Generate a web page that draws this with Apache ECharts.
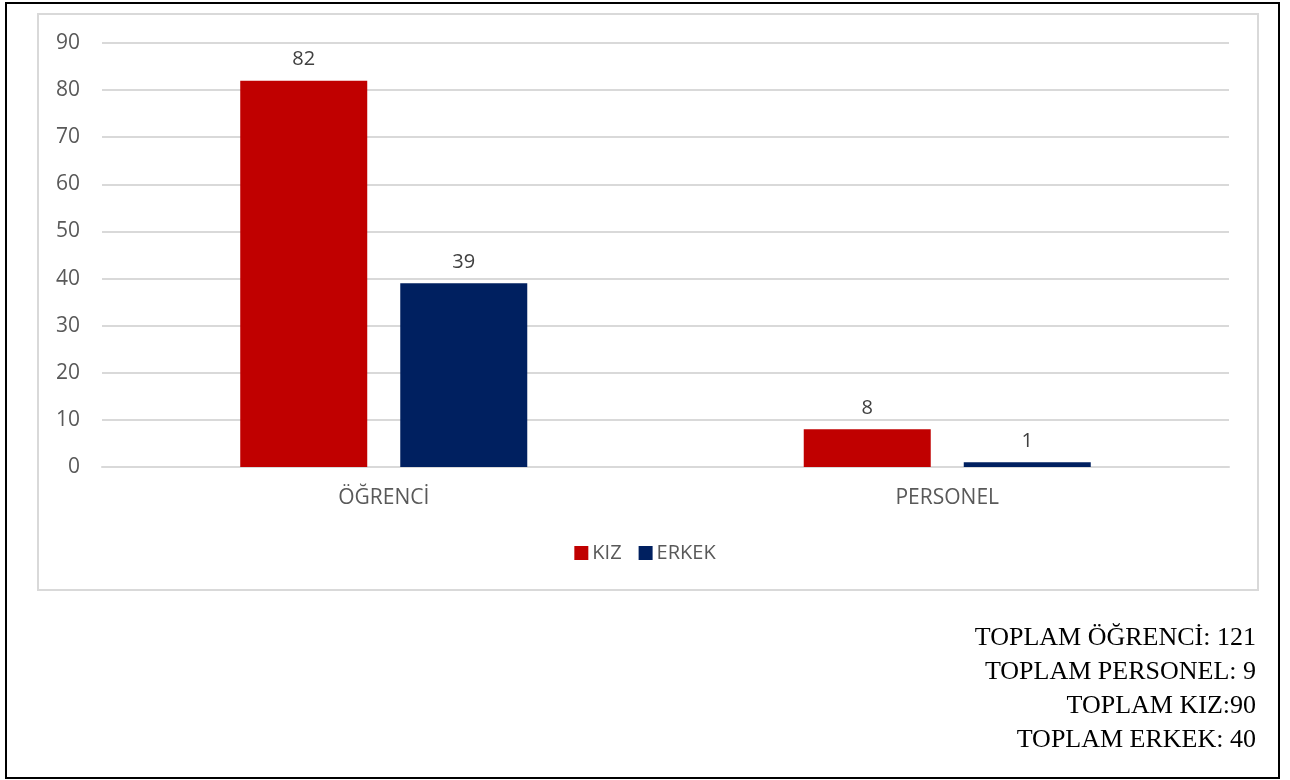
<!DOCTYPE html>
<html>
<head>
<meta charset="utf-8">
<script src="https://cdn.jsdelivr.net/npm/echarts@6/dist/echarts.min.js"></script>
<style>
  html, body { margin: 0; padding: 0; background: #fff; }
  #chart { width: 1290px; height: 780px; }
</style>
</head>
<body>
<div id="chart"></div>
<script>
// Categories and counts per group
const categories = ['ÖĞRENCİ', 'PERSONEL'];
const kizValues = [82, 8];
const erkekValues = [39, 1];
const yTicks = { min: 0, max: 90, interval: 10 };
const totalLines = [
  'TOPLAM ÖĞRENCİ: 121',
  'TOPLAM PERSONEL: 9',
  'TOPLAM KIZ:90',
  'TOPLAM ERKEK: 40'
];

const chart = echarts.init(document.getElementById('chart'), null, { renderer: 'canvas' });
const sansFont = '"Open Sans", "Noto Sans", sans-serif';

const labelStyle = {
  show: true,
  position: 'top',
  distance: 11,
  color: '#404040',
  fontSize: 20,
  fontFamily: sansFont
};

chart.setOption({
  animation: false,
  backgroundColor: '#ffffff',
  grid: { left: 102, right: 61, top: 43, bottom: 313, containLabel: false },
  legend: {
    data: ['KIZ', 'ERKEK'],
    top: 538,
    left: 'center',
    itemWidth: 14,
    itemHeight: 14,
    itemGap: 17,
    icon: 'rect',
    textStyle: { color: '#595959', fontSize: 20, fontFamily: sansFont, padding: [0, 0, 0, -1] }
  },
  xAxis: {
    type: 'category',
    data: categories,
    axisTick: { show: false },
    axisLine: { show: true, lineStyle: { color: '#d9d9d9', width: 2 } },
    axisLabel: { color: '#595959', fontSize: 21, fontFamily: sansFont, margin: 21 }
  },
  yAxis: {
    type: 'value',
    min: yTicks.min,
    max: yTicks.max,
    interval: yTicks.interval,
    axisLine: { show: false },
    axisTick: { show: false },
    axisLabel: { color: '#595959', fontSize: 21, fontFamily: sansFont, margin: 22 },
    splitLine: { lineStyle: { color: '#d9d9d9', width: 2 } }
  },
  series: [
    {
      name: 'KIZ',
      type: 'bar',
      data: kizValues,
      barWidth: 127,
      barGap: '26%',
      itemStyle: { color: '#c00000' },
      label: labelStyle
    },
    {
      name: 'ERKEK',
      type: 'bar',
      data: erkekValues,
      barWidth: 127,
      barGap: '26%',
      itemStyle: { color: '#002060' },
      label: labelStyle
    }
  ],
  graphic: [
    {
      type: 'rect',
      shape: { x: 6, y: 3, width: 1273, height: 775 },
      style: { fill: 'none', stroke: '#000', lineWidth: 2 },
      silent: true,
      z: 100
    },
    {
      type: 'rect',
      shape: { x: 38, y: 14, width: 1220, height: 576 },
      style: { fill: 'none', stroke: '#d9d9d9', lineWidth: 2 },
      silent: true,
      z: 100
    },
    ...totalLines.map((t, i) => ({
      type: 'text',
      x: 1256,
      y: 638 + i * 34,
      style: {
        text: t,
        fill: '#000',
        font: '26px "Liberation Serif", "Times New Roman", serif',
        align: 'right',
        verticalAlign: 'middle'
      },
      silent: true
    }))
  ]
});
</script>
</body>
</html>
